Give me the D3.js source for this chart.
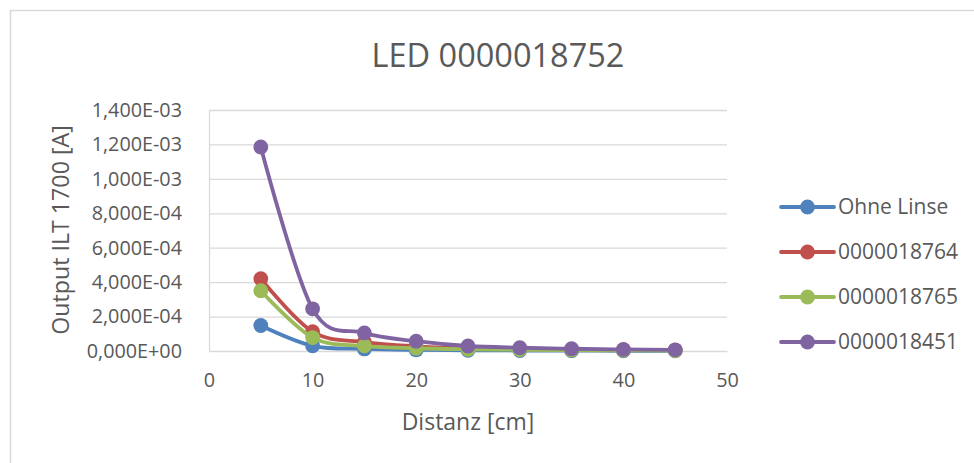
<!DOCTYPE html>
<html>
<head>
<meta charset="utf-8">
<script src="https://cdn.jsdelivr.net/npm/d3@7"></script>
<style>
  html, body { margin: 0; padding: 0; background: #fff; }
  svg { display: block; }
  text { font-family: "Open Sans", "Noto Sans", sans-serif; fill: #595959; }
</style>
</head>
<body>
<svg id="chart" width="974" height="463"></svg>
<script>
// Distance in cm
const distances = [5, 10, 15, 20, 25, 30, 35, 40, 45];

// Measured output current of the ILT 1700 in ampere
const seriesNames = ["Ohne Linse", "0000018764", "0000018765", "0000018451"];
const ohneLinse  = [1.48e-4, 3.0e-5, 1.2e-5, 6e-6, 4e-6, 3e-6, 2e-6, 1.5e-6, 1e-6];
const linse18764 = [4.2e-4, 1.12e-4, 5.2e-5, 2.7e-5, 1.6e-5, 1.1e-5, 8e-6, 6e-6, 5e-6];
const linse18765 = [3.5e-4, 7.8e-5, 3.0e-5, 1.6e-5, 1.0e-5, 7e-6, 5e-6, 4e-6, 3e-6];
const linse18451 = [1.185e-3, 2.45e-4, 1.05e-4, 5.7e-5, 2.9e-5, 1.9e-5, 1.3e-5, 9e-6, 7e-6];
const seriesColors = ["#4F81BD", "#C0504D", "#9BBB59", "#8064A2"];

// Axis ticks
const xTickValues = [0, 10, 20, 30, 40, 50];
const yTickValues = [0, 2e-4, 4e-4, 6e-4, 8e-4, 1e-3, 1.2e-3, 1.4e-3];
const yTickLabels = ["0,000E+00", "2,000E-04", "4,000E-04", "6,000E-04",
                     "8,000E-04", "1,000E-03", "1,200E-03", "1,400E-03"];

const title = "LED 0000018752";
const xTitle = "Distanz [cm]";
const yTitle = "Output ILT 1700 [A]";

const seriesValues = [ohneLinse, linse18764, linse18765, linse18451];
const series = seriesNames.map((name, i) => ({
  name,
  color: seriesColors[i],
  points: distances.map((d, j) => ({ x: d, y: seriesValues[i][j] }))
}));

const svg = d3.select("#chart");

// chart frame
svg.append("rect")
  .attr("x", 10.5).attr("y", 10.5)
  .attr("width", 1000).attr("height", 500)
  .attr("fill", "#fff")
  .attr("stroke", "#D9D9D9")
  .attr("stroke-width", 1.5);

const plot = { left: 209, right: 727, top: 110, bottom: 351 };

const x = d3.scaleLinear().domain([0, 50]).range([plot.left, plot.right]);
const y = d3.scaleLinear().domain([0, 1.4e-3]).range([plot.bottom, plot.top]);

// horizontal gridlines
svg.append("g")
  .attr("transform", `translate(${plot.left},0)`)
  .call(d3.axisLeft(y).tickValues(yTickValues.slice(1))
    .tickSize(-(plot.right - plot.left)).tickFormat(""))
  .call(g => g.select(".domain").remove())
  .call(g => g.selectAll("line").attr("stroke", "#D9D9D9").attr("stroke-width", 1.3));

// y axis labels
svg.append("g")
  .attr("transform", `translate(${plot.left},0)`)
  .call(d3.axisLeft(y).tickValues(yTickValues)
    .tickSize(0).tickPadding(27)
    .tickFormat((d, i) => yTickLabels[i]))
  .call(g => g.select(".domain").attr("stroke", "#D9D9D9").attr("stroke-width", 1.3))
  .call(g => g.selectAll("text")
    .style("font-family", '"Open Sans", sans-serif')
    .attr("font-size", 19.8).attr("fill", "#595959"));

// x axis
svg.append("g")
  .attr("transform", `translate(0,${plot.bottom})`)
  .call(d3.axisBottom(x).tickValues(xTickValues)
    .tickSize(0).tickPadding(22).tickFormat(d3.format("d")))
  .call(g => g.select(".domain").attr("stroke", "#D9D9D9").attr("stroke-width", 1.5))
  .call(g => g.selectAll("text")
    .style("font-family", '"Open Sans", sans-serif')
    .attr("font-size", 19.8).attr("fill", "#595959"));

// title and axis titles
svg.append("text")
  .attr("x", 498).attr("y", 67)
  .attr("text-anchor", "middle")
  .attr("font-size", 32.5)
  .text(title);

svg.append("text")
  .attr("x", (plot.left + plot.right) / 2).attr("y", 430)
  .attr("text-anchor", "middle")
  .attr("font-size", 23)
  .text(xTitle);

svg.append("text")
  .attr("transform", `translate(69,230) rotate(-90)`)
  .attr("text-anchor", "middle")
  .attr("font-size", 23.2)
  .text(yTitle);

// smoothed series lines with markers
const line = d3.line()
  .x(d => x(d.x))
  .y(d => y(d.y))
  .curve(d3.curveCardinal.tension(0));

const sg = svg.append("g").selectAll("g")
  .data(series).join("g");

sg.append("path")
  .attr("d", d => line(d.points))
  .attr("fill", "none")
  .attr("stroke", d => d.color)
  .attr("stroke-width", 3.8)
  .attr("stroke-linejoin", "round")
  .attr("stroke-linecap", "round");

sg.selectAll("circle")
  .data(d => d.points.map(p => ({ ...p, color: d.color })))
  .join("circle")
  .attr("cx", d => x(d.x))
  .attr("cy", d => y(d.y))
  .attr("r", 7.4)
  .attr("fill", d => d.color);

// legend
const legend = svg.append("g").selectAll("g")
  .data(series).join("g")
  .attr("transform", (d, i) => `translate(0,${207 + i * 45})`);

legend.append("line")
  .attr("x1", 781).attr("x2", 834)
  .attr("y1", 0).attr("y2", 0)
  .attr("stroke", d => d.color)
  .attr("stroke-width", 3.8)
  .attr("stroke-linecap", "round");

legend.append("circle")
  .attr("cx", 807.5).attr("cy", 0).attr("r", 7.4)
  .attr("fill", d => d.color);

legend.append("text")
  .attr("x", 838).attr("y", 0)
  .attr("dy", "0.35em")
  .attr("font-size", 21)
  .text(d => d.name);
</script>
</body>
</html>
